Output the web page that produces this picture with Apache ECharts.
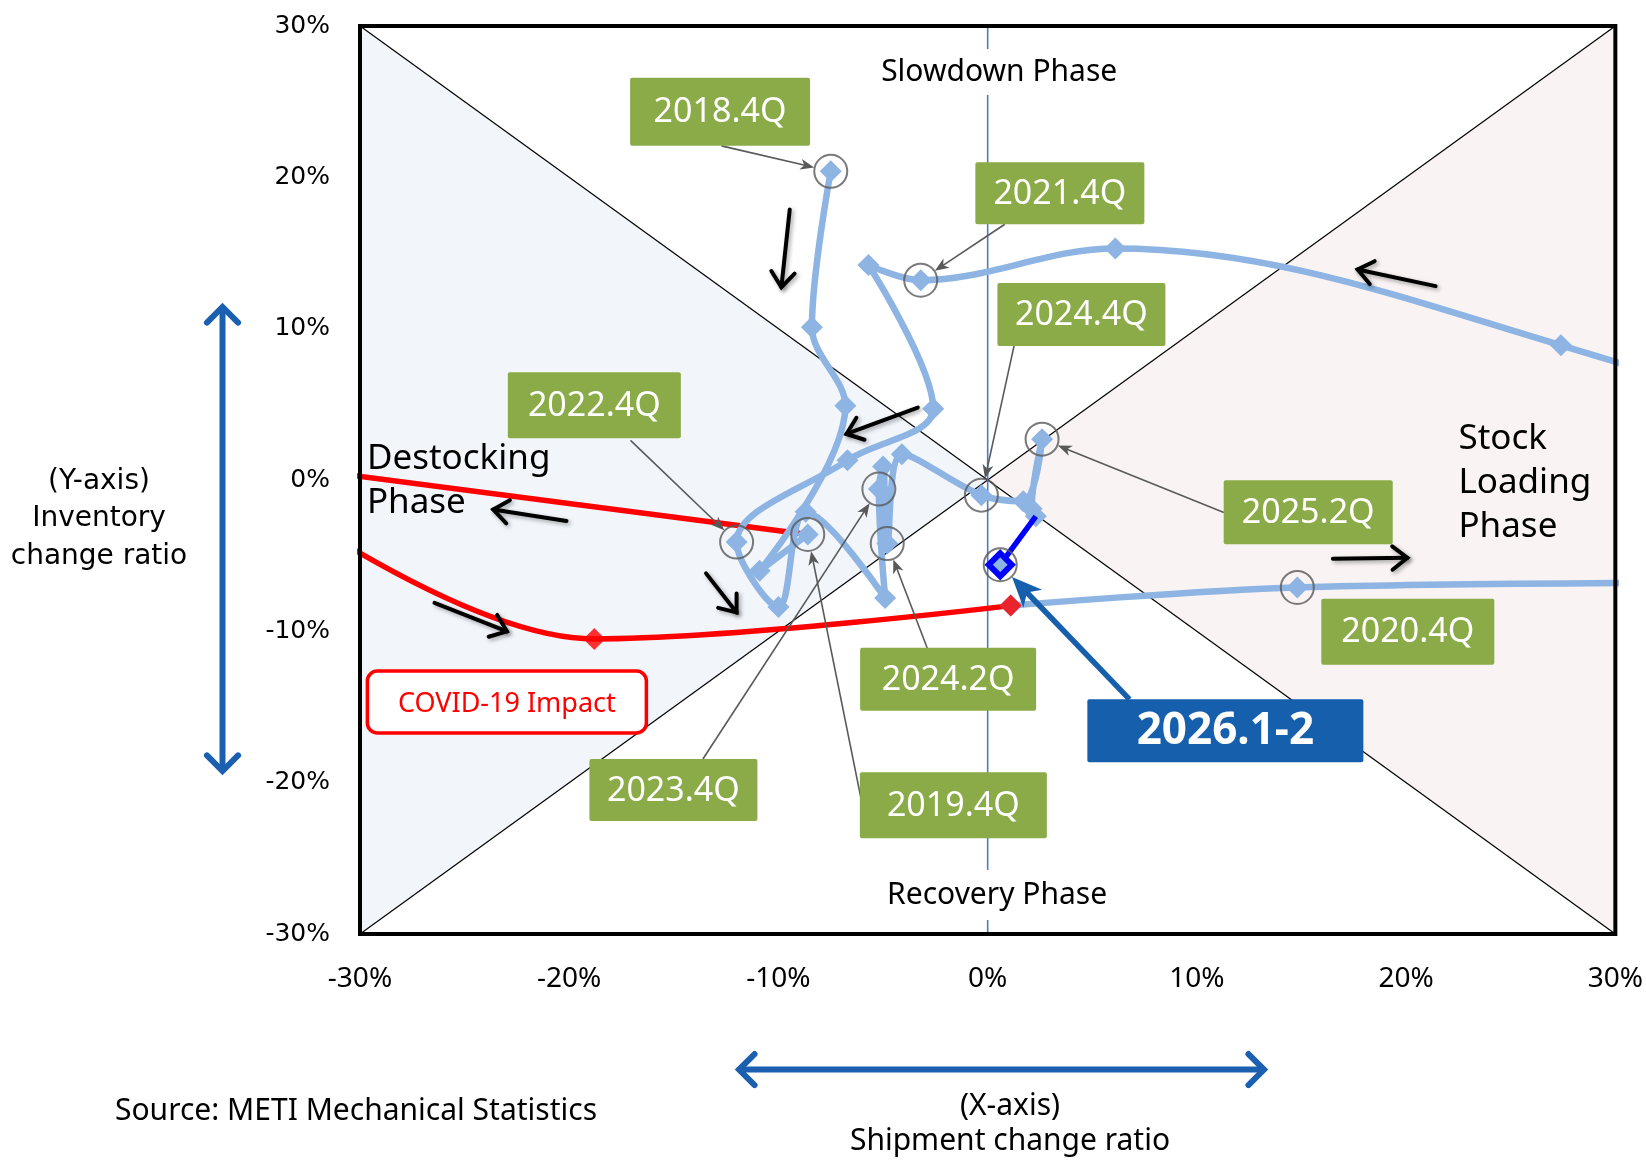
<!DOCTYPE html>
<html>
<head>
<meta charset="utf-8">
<script src="https://cdn.jsdelivr.net/npm/echarts@6/dist/echarts.min.js"></script>
<style>
  html, body { margin: 0; padding: 0; background: #fff; }
  #chart { width: 1646px; height: 1160px; }
</style>
</head>
<body>
<div id="chart"></div>
<script>
// Quarterly shipment / inventory change ratios (%, year on year)
const quarters = ['2018.4Q','2019.1Q','2019.2Q','2019.3Q','2019.4Q','2020.1Q','2020.2Q','2020.3Q','2020.4Q',
  '2021.1Q','2021.2Q','2021.3Q','2021.4Q','2022.1Q','2022.2Q','2022.3Q','2022.4Q','2023.1Q','2023.2Q','2023.3Q',
  '2023.4Q','2024.1Q','2024.2Q','2024.3Q','2024.4Q','2025.1Q','2025.2Q','2025.3Q','2025.4Q','2026.1-2'];
const shipment = [-7.5, -8.4, -6.8, -10.9, -8.6, -37, -18.8, 1.1, 14.8,
  58, 27.4, 6.1, -3.2, -5.7, -2.6, -6.7, -12.0, -10.0, -8.7, -4.9,
  -5.2, -5.0, -4.8, -4.1, -0.3, 1.7, 2.6, 2.1, 2.3, 0.6];
const inventory = [20.4, 10.1, 4.9, -6.0, -3.6, 1.5, -10.5, -8.3, -7.1,
  -6.0, 8.9, 15.3, 13.2, 14.2, 4.7, 1.3, -4.1, -8.4, -2.1, -7.8,
  -0.6, 0.9, -4.2, 1.7, -1.0, -1.4, 2.7, -1.9, -2.4, -5.6];

// Axis ticks (%)
const tickValues = [-30, -20, -10, 0, 10, 20, 30];

// Quarters highlighted with a ring
const circledQuarters = ['2018.4Q','2019.4Q','2020.4Q','2021.4Q','2022.4Q','2023.4Q','2024.2Q','2024.4Q','2025.2Q','2026.1-2'];
// Quarters drawn in red (COVID-19 period) and the latest reading
const covidMarked = ['2020.2Q','2020.3Q'];
const latestQuarter = '2026.1-2';

// ---- annotation layout (positions in axis units, sizes in px) ----
const calloutLayout = [
  { q: '2018.4Q', box: [-12.79, 24.34], w: 180, h: 68, from: [-12.72, 22.08] },
  { q: '2021.4Q', box: [3.45, 18.94],   w: 169, h: 62, from: [0.82, 16.90] },
  { q: '2024.4Q', box: [4.48, 10.94],   w: 168, h: 63, from: [1.26, 8.86] },
  { q: '2022.4Q', box: [-18.80, 4.94],  w: 173, h: 66, from: [-17.07, 2.62] },
  { q: '2025.2Q', box: [15.32, -2.13],  w: 169, h: 64, from: [11.29, -2.15] },
  { q: '2020.4Q', box: [20.08, -10.02], w: 173, h: 66, from: null },
  { q: '2024.2Q', box: [-1.89, -13.17], w: 176, h: 63, from: [-2.89, -11.10] },
  { q: '2023.4Q', box: [-15.02, -20.48], w: 168, h: 62, from: [-13.61, -18.44] },
  { q: '2019.4Q', box: [-1.64, -21.49], w: 187, h: 66, from: [-6.0, -21.42] }
];
const latestCallout = { q: '2026.1-2', box: [11.36, -16.57], w: 276, h: 63, from: [6.78, -14.49] };

const trendArrows = [
  [[-9.46, 17.87], [-9.86, 12.74]],
  [[21.41, 12.81], [17.68, 13.91]],
  [[-3.34, 4.79], [-6.75, 3.04]],
  [[-20.13, -2.71], [-23.63, -1.95]],
  [[-13.46, -6.17], [-12.0, -8.75]],
  [[-26.44, -8.12], [-22.98, -10.0]],
  [[16.5, -5.21], [20.06, -5.14]]
];

const FONT = '"Noto Sans", "Open Sans", sans-serif';
const WIDE = '"DejaVu Sans", Verdana, sans-serif';
const LIGHT_BLUE = '#8DB4E2';
const GREEN = '#8AAB47';
const NAVY = '#155FAD';

const idx = q => quarters.indexOf(q);
const pt = q => [shipment[idx(q)], inventory[idx(q)]];
function segment(a, b) {
  const out = [];
  for (let i = idx(a); i <= idx(b); i++) out.push([shipment[i], inventory[i]]);
  return out;
}

function renderBackdrop(params, api) {
  const tl = api.coord([-30, 30]), tr = api.coord([30, 30]);
  const bl = api.coord([-30, -30]), br = api.coord([30, -30]);
  const c = api.coord([0, 0]);
  const top0 = api.coord([0, 30]), bot0 = api.coord([0, -30]);
  return {
    type: 'group',
    children: [
      { type: 'polygon', shape: { points: [tl, bl, c] }, style: { fill: '#F2F6FB' } },
      { type: 'polygon', shape: { points: [tr, br, c] }, style: { fill: '#F9F3F3' } },
      { type: 'line', shape: { x1: tl[0], y1: tl[1], x2: br[0], y2: br[1] }, style: { stroke: '#000', lineWidth: 1.2 } },
      { type: 'line', shape: { x1: bl[0], y1: bl[1], x2: tr[0], y2: tr[1] }, style: { stroke: '#000', lineWidth: 1.2 } },
      { type: 'line', shape: { x1: top0[0], y1: top0[1], x2: bot0[0], y2: bot0[1] }, style: { stroke: '#4A7BC4', lineWidth: 1.6 } }
    ]
  };
}

const latestData = segment('2025.4Q', latestQuarter).map((p, i) => i === 0
  ? { value: p, symbol: 'none' }
  : { value: p, symbol: 'diamond', symbolSize: 23,
      itemStyle: { color: LIGHT_BLUE, borderColor: '#0000FF', borderWidth: 6 } });

const option = {
  animation: false,
  backgroundColor: '#fff',
  grid: { left: 360, right: 29, top: 26, bottom: 226, show: false },
  xAxis: {
    type: 'value', min: tickValues[0], max: tickValues[tickValues.length - 1], interval: 10,
    axisLine: { show: false }, axisTick: { show: false }, splitLine: { show: false },
    axisLabel: { formatter: v => v + '%', fontFamily: FONT, fontSize: 28, color: '#000', margin: 31 }
  },
  yAxis: {
    type: 'value', min: tickValues[0], max: tickValues[tickValues.length - 1], interval: 10,
    axisLine: { show: false }, axisTick: { show: false }, splitLine: { show: false },
    axisLabel: { formatter: v => v + '%', fontFamily: WIDE, fontSize: 25, color: '#000', margin: 30 }
  },
  series: [
    { type: 'custom', renderItem: renderBackdrop, data: [[0, 0]], z: 1, silent: true },
    { // COVID-19 period path
      type: 'line', data: segment('2019.4Q', '2020.3Q'), smooth: 0.35, symbol: 'none',
      lineStyle: { color: '#FF0000', width: 5.5 }, z: 2, silent: true
    },
    { // 2020.3Q onwards
      type: 'line', data: segment('2020.3Q', '2025.4Q'), smooth: 0.35,
      symbol: 'diamond', symbolSize: 22, showAllSymbol: true,
      lineStyle: { color: LIGHT_BLUE, width: 6.5 }, itemStyle: { color: LIGHT_BLUE }, z: 3, silent: true
    },
    { // 2018.4Q to 2019.4Q
      type: 'line', data: segment('2018.4Q', '2019.4Q'), smooth: 0.35,
      symbol: 'diamond', symbolSize: 22, showAllSymbol: true,
      lineStyle: { color: LIGHT_BLUE, width: 6.5 }, itemStyle: { color: LIGHT_BLUE }, z: 4, silent: true
    },
    { // COVID-19 quarter markers
      type: 'scatter', data: covidMarked.map(pt), symbol: 'diamond', symbolSize: 22,
      itemStyle: { color: '#FF0000' }, z: 5, silent: true
    },
    { // latest reading
      type: 'line', data: latestData, smooth: 0.3,
      lineStyle: { color: '#0000FF', width: 5.5 }, itemStyle: { color: '#0000FF' }, z: 6, silent: true
    },
    { // rings
      type: 'scatter', data: circledQuarters.map(pt), symbol: 'circle', symbolSize: 33,
      itemStyle: { color: 'rgba(0,0,0,0)', borderColor: '#595959', borderWidth: 2 }, z: 7, silent: true
    }
  ]
};

const chart = echarts.init(document.getElementById('chart'));
chart.setOption(option);

const px = p => chart.convertToPixel({ gridIndex: 0 }, p);

function textEl(x, y, text, font, fill, opts) {
  return Object.assign({
    type: 'text', x: x, y: y, z: 120, silent: true,
    style: Object.assign({
      text: text, font: font, fill: fill,
      align: 'center', verticalAlign: 'middle', textAlign: 'center', textVerticalAlign: 'middle'
    }, (opts && opts.style) || {})
  }, (opts && opts.el) || {});
}

function stealthHead(tip, dir, L, W, color) {
  const bx = tip[0] - dir[0] * L, by = tip[1] - dir[1] * L;
  const nx = -dir[1], ny = dir[0];
  const mx = tip[0] - dir[0] * L * 0.72, my = tip[1] - dir[1] * L * 0.72;
  return { type: 'polygon', z: 115, silent: true,
    shape: { points: [[tip[0], tip[1]], [bx + nx * W, by + ny * W], [mx, my], [bx - nx * W, by - ny * W]] },
    style: { fill: color } };
}

function chevron(tip, dir, L, angDeg, color, width, shadow) {
  const a = angDeg * Math.PI / 180;
  const pts = [];
  [a, -a].forEach(t => {
    const dx = -dir[0] * Math.cos(t) + dir[1] * Math.sin(t);
    const dy = -dir[1] * Math.cos(t) - dir[0] * Math.sin(t);
    pts.push([tip[0] + dx * L, tip[1] + dy * L]);
  });
  return { type: 'polyline', z: 115, silent: true,
    shape: { points: [pts[0], tip, pts[1]] },
    style: Object.assign({ stroke: color, lineWidth: width, fill: null, lineJoin: 'miter', lineCap: 'round' }, shadow || {}) };
}

function unit(a, b) {
  const dx = b[0] - a[0], dy = b[1] - a[1];
  const len = Math.hypot(dx, dy);
  return [dx / len, dy / len, len];
}

const g = [];

// plot frame
const tl = px([-30, 30]), br = px([30, -30]);
g.push({ type: 'rect', z: 110, silent: true,
  shape: { x: tl[0], y: tl[1], width: br[0] - tl[0], height: br[1] - tl[1] },
  style: { fill: null, stroke: '#000', lineWidth: 4 } });

// phase captions
let p = px([0.55, 26.96]);
g.push(textEl(p[0], p[1], 'Slowdown Phase', '30px ' + FONT, '#000', { style: { backgroundColor: '#fff', padding: [8, 6] } }));
p = px([0.45, -27.43]);
g.push(textEl(p[0], p[1], 'Recovery Phase', '30px ' + FONT, '#000', { style: { backgroundColor: '#fff', padding: [10, 6] } }));
p = px([-29.67, -0.1]);
g.push(textEl(p[0], p[1], 'Destocking\nPhase', '35px ' + FONT, '#000', { style: { align: 'left', textAlign: 'left', lineHeight: 44 } }));
p = px([22.5, -0.17]);
g.push(textEl(p[0], p[1], 'Stock\nLoading\nPhase', '35px ' + FONT, '#000', { style: { align: 'left', textAlign: 'left', lineHeight: 44 } }));

// COVID-19 box
p = px([-22.98, -14.67]);
g.push({ type: 'rect', z: 112, silent: true,
  shape: { x: p[0] - 139.5, y: p[1] - 31, width: 279, height: 62, r: 10 },
  style: { fill: '#fff', stroke: '#FF0000', lineWidth: 3.5 } });
g.push(textEl(p[0], p[1] + 2, 'COVID-19 Impact', '27px ' + FONT, '#FF0000'));

// quarter callouts
function addCallout(c, fillColor, font, arrowColor, lineWidth, headL, headW) {
  const b = px(c.box);
  if (c.from) {
    const s = px(c.from), t = px(pt(c.q));
    const [ux, uy] = unit(s, t);
    const ring = 17;
    const tip = [t[0] - ux * ring, t[1] - uy * ring];
    const lineEnd = [tip[0] - ux * headL * 0.6, tip[1] - uy * headL * 0.6];
    g.push({ type: 'line', z: 114, silent: true,
      shape: { x1: s[0], y1: s[1], x2: lineEnd[0], y2: lineEnd[1] },
      style: { stroke: arrowColor, lineWidth: lineWidth } });
    g.push(stealthHead(tip, [ux, uy], headL, headW, arrowColor));
  }
  g.push({ type: 'rect', z: 116, silent: true,
    shape: { x: b[0] - c.w / 2, y: b[1] - c.h / 2, width: c.w, height: c.h, r: 2 },
    style: { fill: fillColor } });
  g.push(textEl(b[0], b[1] + 1, c.q, font, '#fff'));
}
calloutLayout.forEach(c => addCallout(c, GREEN, '34px ' + FONT, '#595959', 1.6, 14, 5.5));
addCallout(latestCallout, NAVY, 'bold 44px ' + FONT, NAVY, 5.5, 30, 13);

// direction-of-movement arrows
const shadow = { shadowBlur: 4, shadowColor: 'rgba(0,0,0,0.35)', shadowOffsetX: 2, shadowOffsetY: 2 };
trendArrows.forEach(([a, b]) => {
  const s = px(a), e = px(b);
  const [ux, uy] = unit(s, e);
  g.push({ type: 'line', z: 113, silent: true, shape: { x1: s[0], y1: s[1], x2: e[0], y2: e[1] },
    style: Object.assign({ stroke: '#000', lineWidth: 4, lineCap: 'round' }, shadow) });
  g.push(chevron(e, [ux, uy], 19, 38, '#000', 4, shadow));
});

// axis captions outside the plot
g.push(textEl(99, 519, '(Y-axis)\nInventory\nchange ratio', '28px ' + WIDE, '#000', { style: { lineHeight: 37.5 } }));
g.push(textEl(1010, 1124, '(X-axis)\nShipment change ratio', '30px ' + FONT, '#000', { style: { lineHeight: 35 } }));
g.push(textEl(115, 1111, 'Source: METI Mechanical Statistics', '30px ' + FONT, '#000', { style: { align: 'left', textAlign: 'left' } }));

// double-headed direction indicators
const AX = '#1A5FB0';
g.push({ type: 'line', z: 113, silent: true, shape: { x1: 222.5, y1: 309, x2: 222.5, y2: 769 }, style: { stroke: AX, lineWidth: 6 } });
g.push(chevron([222.5, 307], [0, -1], 22, 45, AX, 6));
g.push(chevron([222.5, 771], [0, 1], 22, 45, AX, 6));
g.push({ type: 'line', z: 113, silent: true, shape: { x1: 741, y1: 1069.6, x2: 1262, y2: 1069.6 }, style: { stroke: AX, lineWidth: 6 } });
g.push(chevron([739, 1069.6], [-1, 0], 22, 45, AX, 6));
g.push(chevron([1264, 1069.6], [1, 0], 22, 45, AX, 6));

chart.setOption({ graphic: { elements: g } });
</script>
</body>
</html>
